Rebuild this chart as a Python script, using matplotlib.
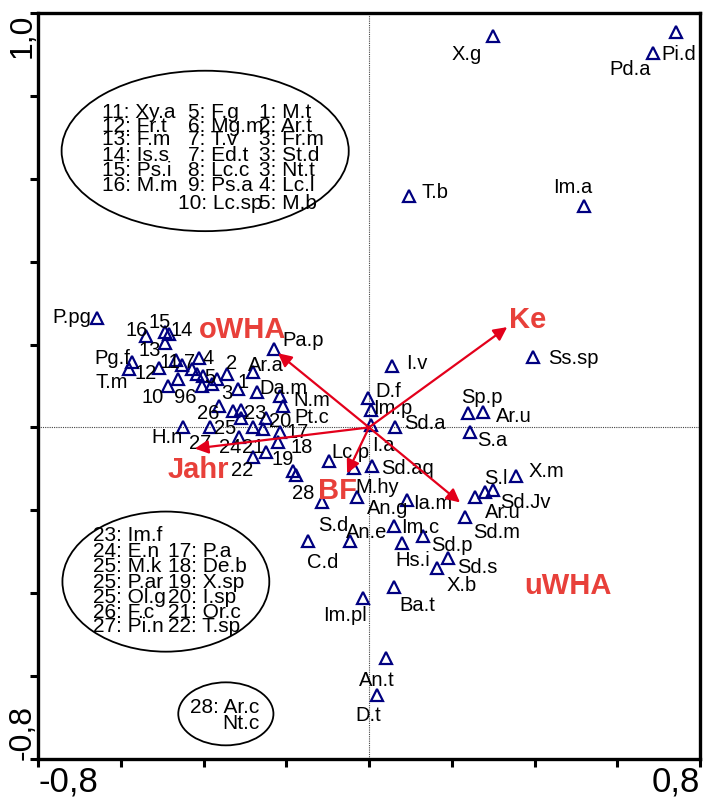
import matplotlib
matplotlib.use("Agg")
import matplotlib.pyplot as plt
from matplotlib.patches import Ellipse

plt.rcParams['font.family'] = ['Liberation Sans', 'DejaVu Sans']

# species scores (triangles)
sp_x = [0.300, 0.742, 0.686, 0.097, 0.520, 0.396, 0.239, 0.276, 0.244, 0.355,
        0.256, 0.280, 0.300, 0.232, 0.056, -0.002, 0.005, 0.005, 0.063, -0.097,
        -0.036, 0.007, -0.029, -0.114, 0.092, -0.046, 0.060, 0.080, 0.131, -0.147,
        0.191, 0.164, 0.060, -0.015, 0.041, 0.019, -0.230, -0.184, -0.176,
        -0.657, -0.539, -0.493, -0.483, -0.493, -0.573, -0.580, -0.508, -0.466, -0.452,
        -0.428, -0.411, -0.416, -0.401, -0.379, -0.367, -0.462, -0.486, -0.404, -0.343,
        -0.280, -0.317, -0.271, -0.215, -0.208, -0.363, -0.329, -0.309, -0.309, -0.249,
        -0.450, -0.384, -0.280, -0.256, -0.215, -0.314, -0.249, -0.220, -0.280]
sp_y = [0.944, 0.954, 0.903, 0.558, 0.534, 0.169, 0.034, 0.036, -0.010, -0.118,
        -0.169, -0.157, -0.152, -0.217, 0.147, 0.072, 0.043, 0.005, 0.000, -0.082,
        -0.099, -0.094, -0.169, -0.181, -0.174, -0.275, -0.239, -0.278, -0.263, -0.273,
        -0.316, -0.338, -0.384, -0.411, -0.556, -0.645, 0.188, -0.106, -0.114,
        0.263, 0.220, 0.229, 0.225, 0.203, 0.159, 0.140, 0.143, 0.162, 0.150,
        0.140, 0.167, 0.128, 0.123, 0.104, 0.116, 0.116, 0.099, 0.099, 0.130,
        0.133, 0.092, 0.085, 0.075, 0.051, 0.051, 0.039, 0.041, 0.022, 0.022,
        0.002, 0.002, 0.002, -0.005, -0.010, -0.022, -0.060, -0.036, -0.072]

# species labels
lab_txt = ["X.g", "Pi.d", "Pd.a", "T.b", "Im.a", "Ss.sp", "Sp.p", "Ar.u", "S.a", "X.m",
           "S.l", "Sd.Jv", "Ar.u", "Sd.m", "Sd.s", "X.b", "Sd.p", "Hs.i", "Im.c", "Ia.m",
           "An.g", "An.e", "S.d", "C.d", "Ba.t", "Im.pl", "An.t", "D.t", "28", "M.hy",
           "Sd.aq", "Lc.p", "I.a", "Sd.a", "Im.p", "D.f", "I.v", "Pa.p", "Ar.a", "Da.m",
           "N.m", "Pt.c", "2", "1", "3", "4", "5", "7", "11", "96",
           "10", "12", "13", "14", "15", "16", "P.pg", "Pg.f", "T.m", "H.n",
           "26", "25", "23", "20", "17", "27", "24", "21", "18", "19", "22"]
lab_x = [0.237, 0.749, 0.631, 0.160, 0.493, 0.495, 0.273, 0.350, 0.297, 0.428,
         0.307, 0.377, 0.324, 0.309, 0.263, 0.225, 0.201, 0.106, 0.123, 0.155,
         0.044, -0.005, -0.087, -0.111, 0.116, -0.058, 0.019, -0.002, -0.160, 0.019,
         0.094, -0.046, 0.034, 0.135, 0.058, 0.046, 0.116, -0.160, -0.249, -0.208,
         -0.138, -0.138, -0.331, -0.305, -0.343, -0.389, -0.384, -0.433, -0.481, -0.445,
         -0.522, -0.539, -0.529, -0.452, -0.505, -0.561, -0.718, -0.621, -0.621, -0.488,
         -0.389, -0.348, -0.276, -0.215, -0.172, -0.408, -0.336, -0.280, -0.162, -0.208, -0.307]
lab_y = [0.901, 0.903, 0.865, 0.568, 0.582, 0.169, 0.075, 0.029, -0.029, -0.104,
         -0.121, -0.179, -0.203, -0.251, -0.336, -0.379, -0.283, -0.319, -0.239, -0.181,
         -0.193, -0.251, -0.234, -0.324, -0.428, -0.452, -0.609, -0.693, -0.157, -0.143,
         -0.097, -0.058, -0.041, 0.012, 0.048, 0.089, 0.157, 0.213, 0.152, 0.097,
         0.068, 0.027, 0.157, 0.111, 0.085, 0.169, 0.123, 0.159, 0.159, 0.075,
         0.075, 0.133, 0.188, 0.237, 0.256, 0.237, 0.268, 0.169, 0.111, -0.022,
         0.036, 0.000, 0.036, 0.017, -0.010, -0.036, -0.046, -0.046, -0.046, -0.075, -0.101]

# environmental variables (arrows)
env_names = ["oWHA", "Ke", "Jahr", "BF", "uWHA"]
env_x = [-0.220, 0.334, -0.421, -0.053, 0.220]
env_y = [0.179, 0.242, -0.051, -0.111, -0.181]
env_lx = [-0.305, 0.384, -0.413, -0.077, 0.481]
env_ly = [0.237, 0.261, -0.101, -0.150, -0.379]

# legend text inside the ellipses
leg1_c1 = ["11: Xy.a", "12: Fr.t", "13: F.m", "14: Is.s", "15: Ps.i", "16: M.m"]
leg1_c2 = ["5: F.g", "6: Mg.m", "7: T.v", "7: Ed.t", "8: Lc.c", "9: Ps.a", "10: Lc.sp"]
leg1_c3 = ["1: M.t", "2: Ar.t", "3: Fr.m", "3: St.d", "3: Nt.t", "4: Lc.l", "5: M.b"]
leg1_y = [0.763, 0.729, 0.696, 0.659, 0.623, 0.587, 0.543]
leg2_c1 = ["23: Im.f", "24: E.n", "25: M.k", "25: P.ar", "25: Ol.g", "26: F.c", "27: Pi.n"]
leg2_c2 = ["17: P.a", "18: De.b", "19: X.sp", "20: I.sp", "21: Or.c", "22: T.sp"]
leg2_y = [-0.258, -0.297, -0.333, -0.372, -0.408, -0.444, -0.478]

navy = "#000080"
red_arrow = "#e3001b"
red_txt = "#e8403a"
leg_fs = 15
lab_fs = 14.5

fig = plt.figure(figsize=(7.08, 8.04), dpi=100)
ax = fig.add_axes([0.0537, 0.0547, 0.935, 0.928])
ax.set_xlim(-0.8, 0.8)
ax.set_ylim(-0.8, 1.0)

ax.axhline(0, color="#444444", lw=0.8, ls=(0, (1, 1)), zorder=1)
ax.axvline(0, color="#444444", lw=0.8, ls=(0, (1, 1)), zorder=1)

ax.plot(sp_x, sp_y, ls="none", marker="^", ms=8.5, mfc="none",
        mec=navy, mew=1.6, zorder=3)

for t, x, y in zip(lab_txt, lab_x, lab_y):
    ax.text(x, y, t, fontsize=lab_fs, ha="center", va="center", color="black", zorder=4)

for name, x, y, lx, ly in zip(env_names, env_x, env_y, env_lx, env_ly):
    ax.annotate("", xy=(x, y), xytext=(0, 0),
                arrowprops=dict(arrowstyle="-|>", color=red_arrow, lw=1.6,
                                mutation_scale=20, shrinkA=0, shrinkB=0), zorder=5)
    ax.text(lx, ly, name, fontsize=21, fontweight="bold", color=red_txt,
            ha="center", va="center", zorder=6)

# ellipses with the number keys
ax.add_patch(Ellipse((-0.396, 0.667), 0.694, 0.387, fill=False, ec="black", lw=1.3))
ax.add_patch(Ellipse((-0.491, -0.372), 0.500, 0.338, fill=False, ec="black", lw=1.3))
ax.add_patch(Ellipse((-0.346, -0.691), 0.230, 0.152, fill=False, ec="black", lw=1.3))

for i, t in enumerate(leg1_c1):
    ax.text(-0.645, leg1_y[i], t, fontsize=leg_fs, ha="left", va="center")
for i, t in enumerate(leg1_c2):
    ax.text(-0.462 if i == 6 else -0.437, leg1_y[i], t, fontsize=leg_fs, ha="left", va="center")
for i, t in enumerate(leg1_c3):
    ax.text(-0.266, leg1_y[i], t, fontsize=leg_fs, ha="left", va="center")
for i, t in enumerate(leg2_c1):
    ax.text(-0.667, leg2_y[i], t, fontsize=leg_fs, ha="left", va="center")
for i, t in enumerate(leg2_c2):
    ax.text(-0.486, leg2_y[i + 1], t, fontsize=leg_fs, ha="left", va="center")
ax.text(-0.433, -0.674, "28: Ar.c", fontsize=leg_fs, ha="left", va="center")
ax.text(-0.355, -0.713, "Nt.c", fontsize=leg_fs, ha="left", va="center")

# axes styling
for s in ["top", "right", "bottom", "left"]:
    ax.spines[s].set_linewidth(2.4)
ax.set_xticks([-0.8, -0.6, -0.4, -0.2, 0, 0.2, 0.4, 0.6, 0.8])
ax.set_yticks([-0.8, -0.6, -0.4, -0.2, 0, 0.2, 0.4, 0.6, 0.8, 1.0])
ax.set_xticklabels(["-0,8", "", "", "", "", "", "", "", "0,8"])
ax.set_yticklabels(["-0,8", "", "", "", "", "", "", "", "", "1,0"], rotation=90)
ax.tick_params(direction="out", length=5.5, width=2.2)
ax.tick_params(axis="x", labelsize=25, pad=-1.5)
ax.tick_params(axis="y", labelsize=23, pad=-5)
xl = ax.get_xticklabels()
xl[0].set_ha("left")
xl[-1].set_ha("right")
yl = ax.get_yticklabels()
yl[0].set_va("bottom")
yl[-1].set_va("top")

fig.savefig("out.png", dpi=100)
